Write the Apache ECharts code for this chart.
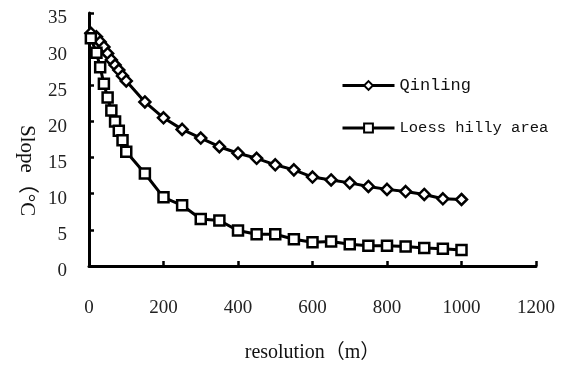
<!DOCTYPE html>
<html>
<head>
<meta charset="utf-8">
<script src="https://cdn.jsdelivr.net/npm/echarts@6/dist/echarts.min.js"></script>
<style>
  html, body { margin: 0; padding: 0; background: #fff; }
  #chart { width: 563px; height: 368px; }
</style>
</head>
<body>
<div id="chart"></div>
<script>
// resolution (m) of each sample
const resolution = [5, 20, 30, 40, 50, 60, 70, 80, 90, 100,
  150, 200, 250, 300, 350, 400, 450, 500, 550, 600, 650, 700, 750, 800, 850, 900, 950, 1000];

// mean slope values per area
const qinling = [32.2, 31.7, 31.0, 30.3, 29.4, 28.5, 27.8, 27.1, 26.3, 25.6,
  22.7, 20.5, 18.9, 17.7, 16.5, 15.6, 14.9, 14.0, 13.3, 12.3, 11.9, 11.5, 11.0, 10.6, 10.3, 9.9, 9.3, 9.2];
const loess = [31.5, 29.5, 27.5, 25.2, 23.3, 21.5, 20.0, 18.7, 17.4, 15.8,
  12.8, 9.5, 8.4, 6.5, 6.3, 4.9, 4.4, 4.4, 3.7, 3.3, 3.4, 3.0, 2.8, 2.8, 2.7, 2.5, 2.4, 2.2];

const seriesNames = ['Qinling', 'Loess hilly area'];
const yTitle = 'Slope（°C';
const xTitle = 'resolution（m）';

const pair = (ys) => resolution.map((x, i) => [x, ys[i]]);

const chart = echarts.init(document.getElementById('chart'));

const serif = '"Liberation Serif", "Noto Sans CJK SC"';

const axisCommon = {
  type: 'value',
  splitLine: { show: false },
  axisLine: { show: true, lineStyle: { color: '#000', width: 3 } },
  axisTick: { show: true, inside: true, length: 5, lineStyle: { color: '#000', width: 2.5 } },
};

chart.setOption({
  animation: false,
  backgroundColor: '#fff',
  grid: { left: 89, top: 13, width: 447, height: 254 },
  xAxis: {
    ...axisCommon,
    min: 0,
    max: 1200,
    interval: 200,
    axisLabel: {
      color: '#222', fontFamily: 'Liberation Serif', fontSize: 19, margin: 33,
      formatter: (v) => String(v),
    },
    name: xTitle,
    nameLocation: 'middle',
    nameGap: 77,
    nameTextStyle: { color: '#111', fontFamily: serif, fontSize: 20 },
  },
  yAxis: {
    ...axisCommon,
    min: 0,
    max: 35,
    interval: 5,
    axisLabel: {
      margin: 22,
      formatter: (v) => '{v|' + v + '}',
      rich: { v: { color: '#222', fontFamily: 'Liberation Serif', fontSize: 19, padding: [11, 0, 0, 0] } },
    },
  },
  graphic: [{
    type: 'text',
    x: 37,
    y: 125,
    rotation: -Math.PI / 2,
    style: {
      text: yTitle,
      fill: '#111',
      font: '21px ' + serif,
    },
  }],
  legend: {
    orient: 'vertical',
    left: 336,
    top: 72,
    itemWidth: 52,
    itemHeight: 11,
    itemGap: 26,
    lineStyle: { width: 3, color: '#000' },
    data: [
      { name: seriesNames[0], textStyle: { fontSize: 17, fontFamily: 'Liberation Mono', color: '#111', padding: [0, 0, 8, 0] } },
      { name: seriesNames[1], textStyle: { fontSize: 15.5, fontFamily: 'Liberation Mono', color: '#111', padding: [0, 0, 10, 0] } },
    ],
  },
  series: [
    {
      name: seriesNames[0],
      type: 'line',
      data: pair(qinling),
      symbol: 'diamond',
      symbolSize: 11,
      lineStyle: { color: '#000', width: 3 },
      itemStyle: { color: '#fff', borderColor: '#000', borderWidth: 2.5 },
    },
    {
      name: seriesNames[1],
      type: 'line',
      data: pair(loess),
      symbol: 'rect',
      symbolSize: 10,
      lineStyle: { color: '#000', width: 3 },
      itemStyle: { color: '#fff', borderColor: '#000', borderWidth: 2.5 },
    },
  ],
});
</script>
</body>
</html>
